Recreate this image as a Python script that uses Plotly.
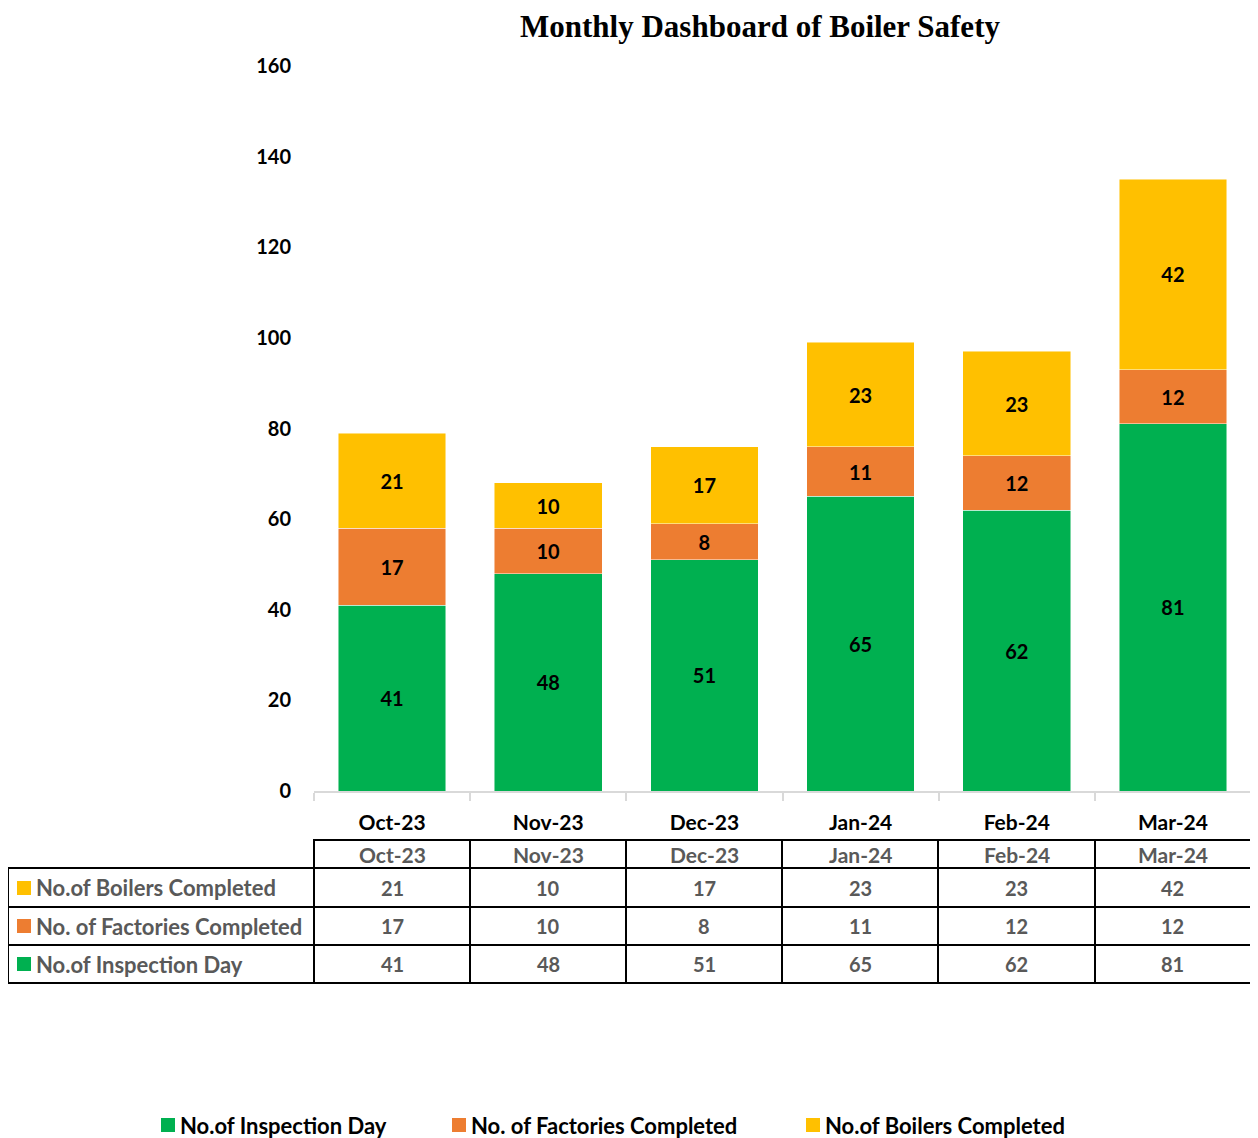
import plotly.graph_objects as go

months = ["Oct-23", "Nov-23", "Dec-23", "Jan-24", "Feb-24", "Mar-24"]
inspection_days = [41, 48, 51, 65, 62, 81]
factories_completed = [17, 10, 8, 11, 12, 12]
boilers_completed = [21, 10, 17, 23, 23, 42]

series_names = ["No.of Inspection Day", "No. of Factories Completed", "No.of Boilers Completed"]
series_values = [inspection_days, factories_completed, boilers_completed]
series_colors = ["#00B050", "#ED7D31", "#FFC000"]

y_ticks = [0, 20, 40, 60, 80, 100, 120, 140, 160]

# page body adds an 8px offset; figure is laid out in reference pixel terms
OFF = 8
W, H = 1258 - OFF, 1138 - OFF
L, R, T, B = 314, 1251, 66, 791
FONT = "Lato"


def px(x):
    return (x - L) / (R - L)


def py(y):
    return (B - y) / (B - T)


fig = go.Figure()
for name, vals, col in zip(series_names, series_values, series_colors):
    fig.add_trace(go.Bar(
        x=months, y=vals, name=name, showlegend=False,
        marker=dict(color=col, line=dict(color="rgba(255,255,255,0.6)", width=0.8)),
        text=vals, texttemplate="<b>%{text}</b>", textposition="inside",
        insidetextanchor="middle", textangle=0,
        textfont=dict(family=FONT, size=20, color="black"),
        hoverinfo="skip",
    ))

shapes = []
line = dict(color="black", width=2)
# data table grid
shapes.append(dict(type="line", xref="paper", yref="paper",
                   x0=px(313), x1=px(1252), y0=py(840), y1=py(840), line=line))
for yy in [868, 907, 945, 983]:
    shapes.append(dict(type="line", xref="paper", yref="paper",
                       x0=px(8), x1=px(1252), y0=py(yy), y1=py(yy), line=line))
shapes.append(dict(type="line", xref="paper", yref="paper",
                   x0=px(8), x1=px(8), y0=py(867), y1=py(984), line=line))
for xx in [314, 470, 626, 782, 938, 1095, 1251]:
    shapes.append(dict(type="line", xref="paper", yref="paper",
                       x0=px(xx), x1=px(xx), y0=py(839), y1=py(984), line=line))

annotations = []
gray = "#595959"
for m in months:
    annotations.append(dict(x=m, xref="x", y=py(854), yref="paper", text="<b>%s</b>" % m,
                            showarrow=False, font=dict(family=FONT, size=21, color=gray),
                            xanchor="center", yanchor="middle"))

row_y = [888, 926, 964]
row_series = [2, 1, 0]
for ry, si in zip(row_y, row_series):
    shapes.append(dict(type="rect", xref="paper", yref="paper",
                       x0=px(17), x1=px(31), y0=py(ry - 7), y1=py(ry + 7),
                       fillcolor=series_colors[si], line=dict(width=0)))
    annotations.append(dict(x=px(34), xref="paper", y=py(ry), yref="paper",
                            text="<b>%s</b>" % series_names[si], showarrow=False,
                            font=dict(family=FONT, size=22, color=gray),
                            xanchor="left", yanchor="middle"))
    for m, v in zip(months, series_values[si]):
        annotations.append(dict(x=m, xref="x", y=py(ry), yref="paper", text="<b>%d</b>" % v,
                                showarrow=False, font=dict(family=FONT, size=20, color=gray),
                                xanchor="center", yanchor="middle"))

# legend at the bottom
legend_x = [161, 452, 806]
legend_y = 1125
for lx, name, col in zip(legend_x, series_names, series_colors):
    shapes.append(dict(type="rect", xref="paper", yref="paper",
                       x0=px(lx), x1=px(lx + 14), y0=py(legend_y - 7), y1=py(legend_y + 7),
                       fillcolor=col, line=dict(width=0)))
    annotations.append(dict(x=px(lx + 17), xref="paper", y=py(legend_y), yref="paper",
                            text="<b>%s</b>" % name, showarrow=False,
                            font=dict(family=FONT, size=22, color="black"),
                            xanchor="left", yanchor="middle"))

fig.update_layout(
    width=W, height=H,
    margin=dict(l=L - OFF, r=W - (R - OFF), t=T - OFF, b=H - (B - OFF), pad=0, autoexpand=False),
    paper_bgcolor="white", plot_bgcolor="white",
    barmode="stack", bargap=0.31,
    showlegend=False,
    title=dict(text="<b>Monthly Dashboard of Boiler Safety</b>", x=(760 - OFF) / W, xref="container",
               xanchor="center", y=1 - (26 - OFF) / H, yref="container", yanchor="middle",
               font=dict(family="Liberation Serif", size=31, color="black")),
    font=dict(family=FONT, size=20, color="black"),
    xaxis=dict(type="category", showline=True, linecolor="#D9D9D9", linewidth=1.5,
               ticks="outside", tickson="boundaries", ticklen=8, tickcolor="#D9D9D9",
               tickwidth=1.5, showgrid=False, automargin=False,
               tickfont=dict(family=FONT, size=21, color="black"),
               tickvals=months, ticktext=["<b>%s</b>" % m for m in months],
               ticklabelstandoff=12),
    yaxis=dict(range=[0, 160], tickvals=y_ticks, ticktext=["<b>%d</b>" % v for v in y_ticks],
               showgrid=False, zeroline=False, showline=False, automargin=False,
               tickfont=dict(family=FONT, size=20, color="black"), ticklabelstandoff=22),
    shapes=shapes, annotations=annotations,
    uniformtext=dict(minsize=20, mode="show"),
)

fig.write_html("out.html")
